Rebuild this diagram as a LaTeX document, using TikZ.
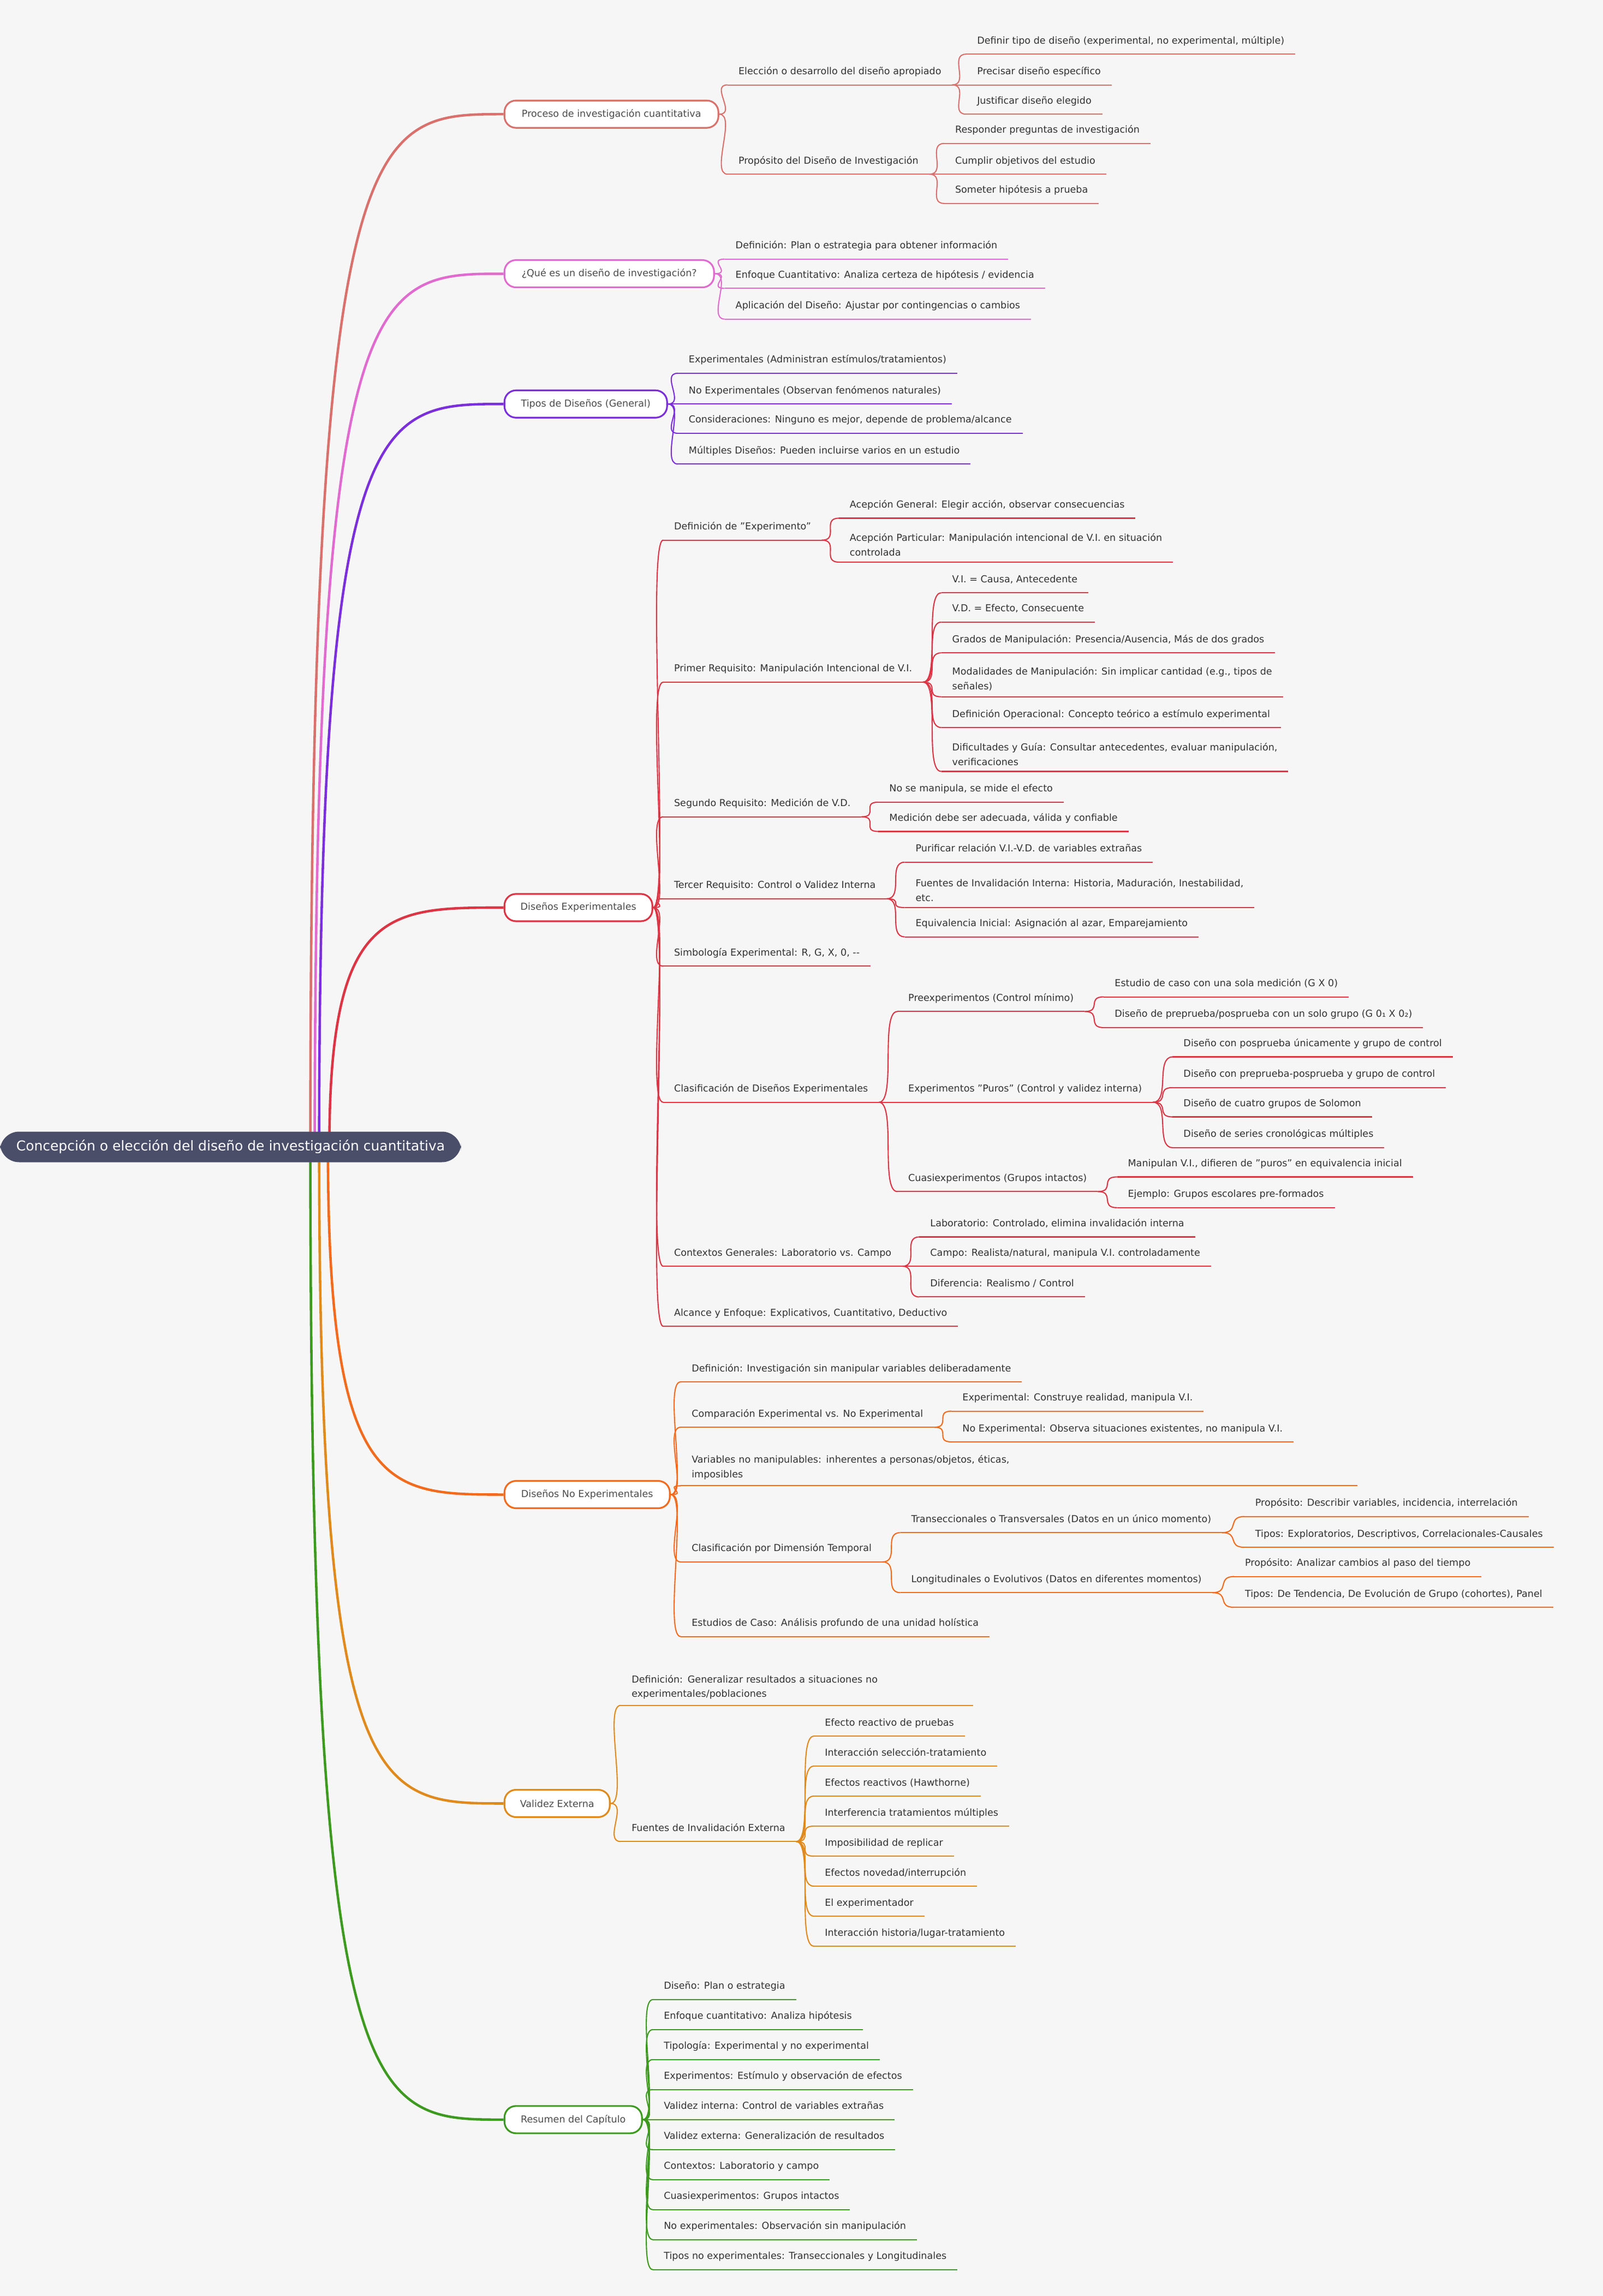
\documentclass[tikz,border=0pt]{standalone}
\usepackage{fontspec}
\setmainfont{DejaVu Sans}
\usetikzlibrary{backgrounds}
\definecolor{bgc}{HTML}{F6F6F6}
\definecolor{txtc}{HTML}{333333}
\definecolor{rootc}{HTML}{4A4E69}
\definecolor{procC}{HTML}{D9716D}
\definecolor{queC}{HTML}{E06BCF}
\definecolor{tipC}{HTML}{7B2FDB}
\definecolor{expC}{HTML}{DC3545}
\definecolor{noexC}{HTML}{F26B1D}
\definecolor{valC}{HTML}{E08A1C}
\definecolor{resC}{HTML}{3D9A1F}
\tikzset{
  topic/.style={draw=#1, line width=0.9pt, rounded corners=6pt, fill=white, anchor=west,
    minimum height=0.5cm, text=black!70, font=\fontsize{5.0}{6}\selectfont},
  leaf/.style={anchor=south west, inner xsep=5.5pt, inner ysep=4pt, text height=3.8pt, text depth=1.2pt,
    text=txtc, font=\fontsize{5.0}{7.6}\selectfont,
    append after command={(\tikzlastnode.south west) edge[draw=#1, line width=0.6pt] (\tikzlastnode.south east)}},
  leafm/.style={anchor=south west, inner xsep=5.5pt, inner ysep=3pt, align=left,
    text=txtc, font=\fontsize{5.0}{7.6}\selectfont,
    append after command={(\tikzlastnode.south west) edge[draw=#1, line width=0.6pt] (\tikzlastnode.south east)}},
  link/.style={line width=0.6pt},
  branch/.style={line width=1.3pt},
}
\newcommand{\qq}{\char34}
\begin{document}
\begin{tikzpicture}[x=0.026822cm, y=-0.026822cm]
\useasboundingbox (0,0) rectangle (1095,1568.5);
\node[fill=rootc, text=white, rounded corners=10pt, minimum width=8.45cm, minimum height=0.56cm,
  font=\fontsize{7.1}{8}\selectfont] (root) at (157.5,783.5) {Concepción o elección del diseño de investigación cuantitativa};

% main topics
\node[topic=procC, minimum width=3.92cm] (proc) at (344,78) {Proceso de investigación cuantitativa};
\node[topic=queC, minimum width=3.84cm] (que) at (344,187) {¿Qué es un diseño de investigación?};
\node[topic=tipC, minimum width=2.98cm] (tip) at (344,276) {Tipos de Diseños (General)};
\node[topic=expC, minimum width=2.71cm] (exp) at (344,620) {Diseños Experimentales};
\node[topic=noexC, minimum width=3.03cm] (noex) at (344,1021) {Diseños No Experimentales};
\node[topic=valC, minimum width=1.93cm] (val) at (344,1232) {Validez Externa};
\node[topic=resC, minimum width=2.52cm] (res) at (344,1448) {Resumen del Capítulo};

% proceso
\node[leaf=procC] (pe) at (497,58) {Elección o desarrollo del diseño apropiado};
\node[leaf=procC] (pe1) at (660,37) {Definir tipo de diseño (experimental, no experimental, múltiple)};
\node[leaf=procC] (pe2) at (660,58) {Precisar diseño específico};
\node[leaf=procC] (pe3) at (660,78) {Justificar diseño elegido};
\node[leaf=procC] (pp) at (497,119) {Propósito del Diseño de Investigación};
\node[leaf=procC] (pp1) at (645,98) {Responder preguntas de investigación};
\node[leaf=procC] (pp2) at (645,119) {Cumplir objetivos del estudio};
\node[leaf=procC] (pp3) at (645,139) {Someter hipótesis a prueba};

% que es
\node[leaf=queC] (q1) at (495,177) {Definición: Plan o estrategia para obtener información};
\node[leaf=queC] (q2) at (495,197) {Enfoque Cuantitativo: Analiza certeza de hipótesis / evidencia};
\node[leaf=queC] (q3) at (495,218) {Aplicación del Diseño: Ajustar por contingencias o cambios};

% tipos
\node[leaf=tipC] (t1) at (463,255) {Experimentales (Administran estímulos/tratamientos)};
\node[leaf=tipC] (t2) at (463,276) {No Experimentales (Observan fenómenos naturales)};
\node[leaf=tipC] (t3) at (463,296) {Consideraciones: Ninguno es mejor, depende de problema/alcance};
\node[leaf=tipC] (t4) at (463,317) {Múltiples Diseños: Pueden incluirse varios en un estudio};

% experimentales
\node[leaf=expC] (d1) at (453,369) {Definición de \qq Experimento\qq};
\node[leaf=expC] (d1a) at (573,354) {Acepción General: Elegir acción, observar consecuencias};
\node[leafm=expC] (d1b) at (573,384) {Acepción Particular: Manipulación intencional de V.I. en situación\\controlada};
\node[leaf=expC] (d2) at (453,466) {Primer Requisito: Manipulación Intencional de V.I.};
\node[leaf=expC] (d2a) at (643,405) {V.I. = Causa, Antecedente};
\node[leaf=expC] (d2b) at (643,425) {V.D. = Efecto, Consecuente};
\node[leaf=expC] (d2c) at (643,446) {Grados de Manipulación: Presencia/Ausencia, Más de dos grados};
\node[leafm=expC] (d2d) at (643,476) {Modalidades de Manipulación: Sin implicar cantidad (e.g., tipos de\\señales)};
\node[leaf=expC] (d2e) at (643,497) {Definición Operacional: Concepto teórico a estímulo experimental};
\node[leafm=expC] (d2f) at (643,527) {Dificultades y Guía: Consultar antecedentes, evaluar manipulación,\\verificaciones};
\node[leaf=expC] (d3) at (453,558) {Segundo Requisito: Medición de V.D.};
\node[leaf=expC] (d3a) at (600,548) {No se manipula, se mide el efecto};
\node[leaf=expC] (d3b) at (600,568) {Medición debe ser adecuada, válida y confiable};
\node[leaf=expC] (d4) at (453,614) {Tercer Requisito: Control o Validez Interna};
\node[leaf=expC] (d4a) at (618,589) {Purificar relación V.I.-V.D. de variables extrañas};
\node[leafm=expC] (d4b) at (618,620) {Fuentes de Invalidación Interna: Historia, Maduración, Inestabilidad,\\etc.};
\node[leaf=expC] (d4c) at (618,640) {Equivalencia Inicial: Asignación al azar, Emparejamiento};
\node[leaf=expC] (d5) at (453,660) {Simbología Experimental: R, G, X, 0, -{}-};
\node[leaf=expC] (d6) at (453,753) {Clasificación de Diseños Experimentales};
\node[leaf=expC] (d6a) at (613,691) {Preexperimentos (Control mínimo)};
\node[leaf=expC] (d6a1) at (754,681) {Estudio de caso con una sola medición (G X 0)};
\node[leaf=expC] (d6a2) at (754,702) {Diseño de preprueba/posprueba con un solo grupo (G 0₁ X 0₂)};
\node[leaf=expC] (d6b) at (613,753) {Experimentos \qq Puros\qq{} (Control y validez interna)};
\node[leaf=expC] (d6b1) at (801,722) {Diseño con posprueba únicamente y grupo de control};
\node[leaf=expC] (d6b2) at (801,743) {Diseño con preprueba-posprueba y grupo de control};
\node[leaf=expC] (d6b3) at (801,763) {Diseño de cuatro grupos de Solomon};
\node[leaf=expC] (d6b4) at (801,784) {Diseño de series cronológicas múltiples};
\node[leaf=expC] (d6c) at (613,814) {Cuasiexperimentos (Grupos intactos)};
\node[leaf=expC] (d6c1) at (763,804) {Manipulan V.I., difieren de \qq puros\qq{} en equivalencia inicial};
\node[leaf=expC] (d6c2) at (763,825) {Ejemplo: Grupos escolares pre-formados};
\node[leaf=expC] (d7) at (453,865) {Contextos Generales: Laboratorio vs. Campo};
\node[leaf=expC] (d7a) at (628,845) {Laboratorio: Controlado, elimina invalidación interna};
\node[leaf=expC] (d7b) at (628,865) {Campo: Realista/natural, manipula V.I. controladamente};
\node[leaf=expC] (d7c) at (628,886) {Diferencia: Realismo / Control};
\node[leaf=expC] (d8) at (453,906) {Alcance y Enfoque: Explicativos, Cuantitativo, Deductivo};

% no experimentales
\node[leaf=noexC] (n1) at (465,944) {Definición: Investigación sin manipular variables deliberadamente};
\node[leaf=noexC] (n2) at (465,975) {Comparación Experimental vs. No Experimental};
\node[leaf=noexC] (n2a) at (650,964) {Experimental: Construye realidad, manipula V.I.};
\node[leaf=noexC] (n2b) at (650,985) {No Experimental: Observa situaciones existentes, no manipula V.I.};
\node[leafm=noexC, text width=12cm] (n3) at (465,1015) {Variables no manipulables: inherentes a personas/objetos, éticas,\\imposibles};
\node[leaf=noexC] (n4) at (465,1067) {Clasificación por Dimensión Temporal};
\node[leaf=noexC] (n4a) at (615,1047) {Transeccionales o Transversales (Datos en un único momento)};
\node[leaf=noexC] (n4a1) at (850,1036) {Propósito: Describir variables, incidencia, interrelación};
\node[leaf=noexC] (n4a2) at (850,1057) {Tipos: Exploratorios, Descriptivos, Correlacionales-Causales};
\node[leaf=noexC] (n4b) at (615,1088) {Longitudinales o Evolutivos (Datos en diferentes momentos)};
\node[leaf=noexC] (n4b1) at (843,1077) {Propósito: Analizar cambios al paso del tiempo};
\node[leaf=noexC] (n4b2) at (843,1098) {Tipos: De Tendencia, De Evolución de Grupo (cohortes), Panel};
\node[leaf=noexC] (n5) at (465,1118) {Estudios de Caso: Análisis profundo de una unidad holística};

% validez externa
\node[leafm=valC, text width=6.06cm] (v1) at (424,1165) {Definición: Generalizar resultados a situaciones no\\experimentales/poblaciones};
\node[leaf=valC] (v2) at (424,1258) {Fuentes de Invalidación Externa};
\foreach \t [count=\i] in {Efecto reactivo de pruebas, Interacción selección-tratamiento,
  Efectos reactivos (Hawthorne), Interferencia tratamientos múltiples, Imposibilidad de replicar,
  Efectos novedad/interrupción, El experimentador, Interacción historia/lugar-tratamiento}
  \node[leaf=valC] (v2\i) at (556,1165.5+20.5*\i) {\t};

% resumen
\foreach \t [count=\i] in {Diseño: Plan o estrategia, Enfoque cuantitativo: Analiza hipótesis,
  Tipología: Experimental y no experimental, Experimentos: Estímulo y observación de efectos,
  Validez interna: Control de variables extrañas, Validez externa: Generalización de resultados,
  Contextos: Laboratorio y campo, Cuasiexperimentos: Grupos intactos,
  No experimentales: Observación sin manipulación, Tipos no experimentales: Transeccionales y Longitudinales}
  \node[leaf=resC] (r\i) at (446,1345.5+20.5*\i) {\t};

\begin{scope}[on background layer]
\fill[bgc] (0,0) rectangle (1095,1568.5);
\coordinate (b1) at (212,783);
\coordinate (b2) at (215,783);
\coordinate (b3) at (218,783);
\coordinate (b4) at (225,783);
\coordinate (b5) at (224,783);
\coordinate (b6) at (218,783);
\coordinate (b7) at (212,783);
\draw[branch, procC] (b1) .. controls (212,78) and (252,78) .. (proc.west);
\draw[branch, queC] (b2) .. controls (215,187) and (255,187) .. (que.west);
\draw[branch, tipC] (b3) .. controls (218,276) and (258,276) .. (tip.west);
\draw[branch, expC] (b4) .. controls (225,620) and (265,620) .. (exp.west);
\draw[branch, noexC] (b5) .. controls (224,1021) and (264,1021) .. (noex.west);
\draw[branch, valC] (b6) .. controls (218,1232) and (258,1232) .. (val.west);
\draw[branch, resC] (b7) .. controls (212,1448) and (252,1448) .. (res.west);

\foreach \c in {pe,pp}
  \draw[link, procC] (proc.east) .. controls +(12,0) and +(-12,0) .. (\c.south west);
\foreach \a/\b in {pe/pe1, pe/pe2, pe/pe3, pp/pp1, pp/pp2, pp/pp3}
  \draw[link, procC] (\a.south east) .. controls +(12,0) and +(-12,0) .. (\b.south west);
\foreach \c in {q1,q2,q3}
  \draw[link, queC] (que.east) .. controls +(12,0) and +(-12,0) .. (\c.south west);
\foreach \c in {t1,t2,t3,t4}
  \draw[link, tipC] (tip.east) .. controls +(12,0) and +(-12,0) .. (\c.south west);
\foreach \c in {d1,d2,d3,d4,d5,d6,d7,d8}
  \draw[link, expC] (exp.east) .. controls +(12,0) and +(-12,0) .. (\c.south west);
\foreach \a/\b in {d1/d1a, d1/d1b, d2/d2a, d2/d2b, d2/d2c, d2/d2d, d2/d2e, d2/d2f, d3/d3a, d3/d3b,
  d4/d4a, d4/d4b, d4/d4c, d6/d6a, d6/d6b, d6/d6c, d6a/d6a1, d6a/d6a2, d6b/d6b1, d6b/d6b2, d6b/d6b3,
  d6b/d6b4, d6c/d6c1, d6c/d6c2, d7/d7a, d7/d7b, d7/d7c}
  \draw[link, expC] (\a.south east) .. controls +(12,0) and +(-12,0) .. (\b.south west);
\foreach \c in {n1,n2,n3,n4,n5}
  \draw[link, noexC] (noex.east) .. controls +(12,0) and +(-12,0) .. (\c.south west);
\foreach \a/\b in {n2/n2a, n2/n2b, n4/n4a, n4/n4b, n4a/n4a1, n4a/n4a2, n4b/n4b1, n4b/n4b2}
  \draw[link, noexC] (\a.south east) .. controls +(12,0) and +(-12,0) .. (\b.south west);
\foreach \c in {v1,v2}
  \draw[link, valC] (val.east) .. controls +(12,0) and +(-12,0) .. (\c.south west);
\foreach \i in {1,...,8}
  \draw[link, valC] (v2.south east) .. controls +(12,0) and +(-12,0) .. (v2\i.south west);
\foreach \i in {1,...,10}
  \draw[link, resC] (res.east) .. controls +(12,0) and +(-12,0) .. (r\i.south west);
\end{scope}
\end{tikzpicture}
\end{document}
